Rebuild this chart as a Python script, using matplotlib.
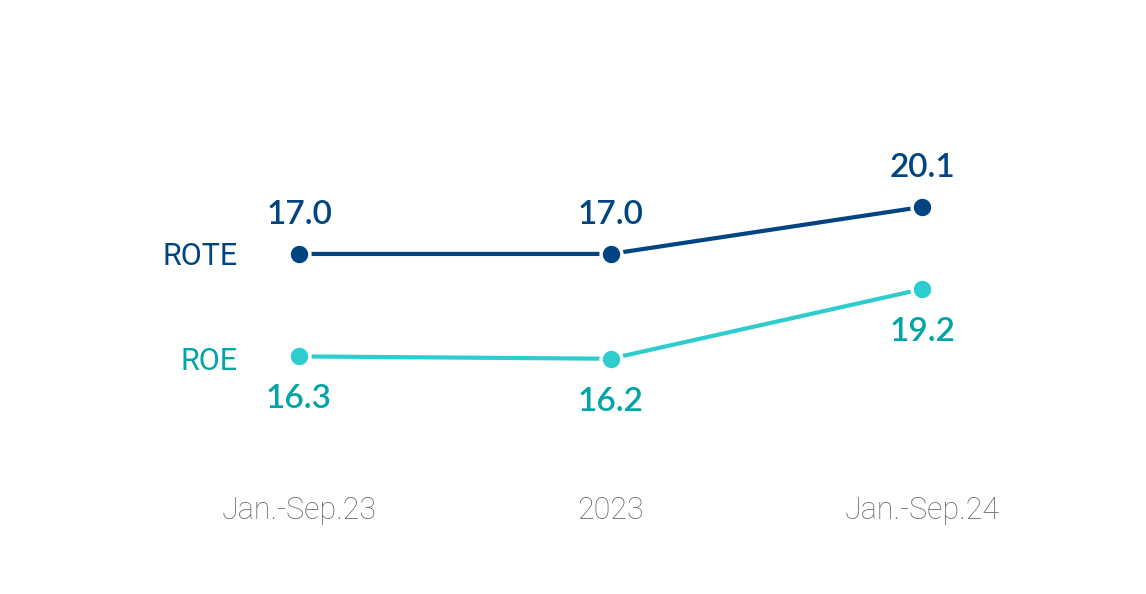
import matplotlib
matplotlib.use("Agg")
import matplotlib.pyplot as plt

categories = ["Jan.-Sep.23", "2023", "Jan.-Sep.24"]
rote = [17.0, 17.0, 20.1]
roe = [16.3, 16.2, 19.2]
series_names = ["ROTE", "ROE"]

DARK = "#004481"
AQUA = "#2DCCCD"
AQUA_TXT = "#02A5A5"
GREY = "#666666"

fig = plt.figure(figsize=(11.46, 5.94), dpi=100)
ax = fig.add_axes([0, 0, 1, 1])
ax2 = ax.twinx()
x = list(range(len(categories)))

for a in (ax, ax2):
    a.set_xlim(-0.96, 2.719)
    for s in a.spines.values():
        s.set_visible(False)
    a.set_yticks([])
ax.set_ylim(-5.43, 33.75)
ax2.set_ylim(6.06, 31.66)

ax.plot(x, rote, color=DARK, lw=3, marker="o", ms=15, mfc=DARK,
        mec="white", mew=2.5, solid_capstyle="butt", zorder=3)
ax2.plot(x, roe, color=AQUA, lw=3, marker="o", ms=15, mfc=AQUA,
         mec="white", mew=2.5, solid_capstyle="butt", zorder=3)

valfont = dict(family="Lato", weight="semibold", fontsize=24)
for xi, v in zip(x, rote):
    ax.annotate(f"{v:.1f}", (xi, v), xytext=(0, 28), textcoords="offset points",
                ha="center", va="center", color=DARK, **valfont)
for xi, v in zip(x, roe):
    ax2.annotate(f"{v:.1f}", (xi, v), xytext=(0, -31), textcoords="offset points",
                 ha="center", va="center", color=AQUA_TXT, **valfont)

namefont = dict(family="Roboto", weight="normal", fontsize=22)
ax.annotate(series_names[0], (x[0], rote[0]), xytext=(-44, -1.5),
            textcoords="offset points", ha="right", va="center", color=DARK, **namefont)
ax2.annotate(series_names[1], (x[0], roe[0]), xytext=(-44, -4),
             textcoords="offset points", ha="right", va="center", color=AQUA_TXT, **namefont)

ax.set_xticks(x)
ax.set_xticklabels([])
for xi, c in zip(x, categories):
    ax.annotate(c, (xi, 0), xycoords=("data", "axes fraction"), xytext=(0, 60),
                textcoords="offset points", ha="center", va="center",
                color=GREY, family="Roboto", weight="light", fontsize=22)
ax.tick_params(length=0)

fig.savefig("out.png", dpi=100, facecolor="white")
